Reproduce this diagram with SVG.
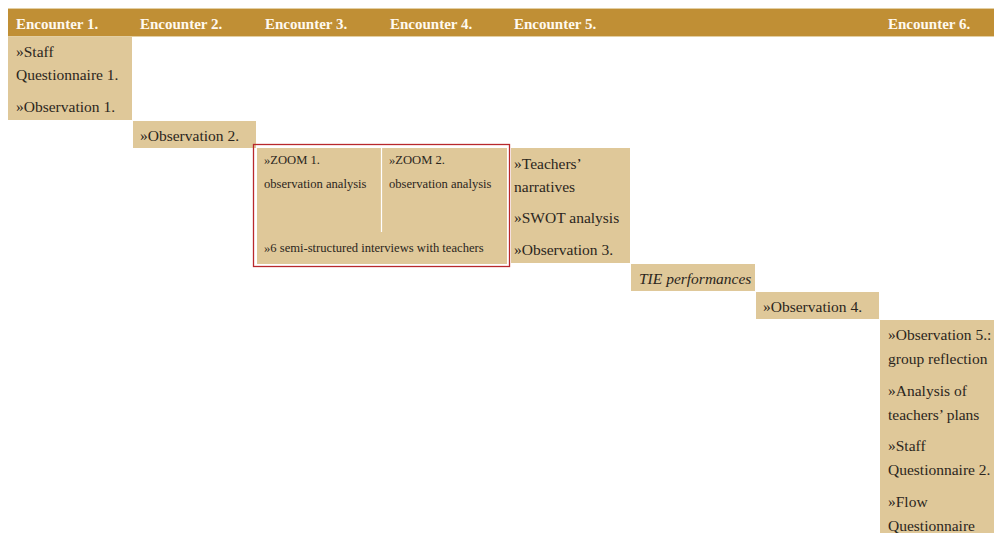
<svg xmlns="http://www.w3.org/2000/svg" width="994" height="533" viewBox="0 0 994 533">
  <style>
    .hdr { fill: #C08F35; }
    .hdrline { fill: #E3CFA3; }
    .cell { fill: #DFC899; }
    .htxt { font-family: "Liberation Serif", serif; font-size: 15px; font-weight: bold; fill: #FFF9EF; }
    .txt { font-family: "Liberation Serif", serif; font-size: 15.5px; fill: #2B2620; }
    .sm { font-family: "Liberation Serif", serif; font-size: 12.6px; fill: #2B2620; }
    .it { font-style: italic; }
  </style>
  <rect width="994" height="533" fill="#FFFFFF"/>

  <!-- header bar with encounter titles -->
  <g id="header">
    <rect class="hdrline" x="8" y="8" width="986" height="29"/>
    <rect class="hdr" x="8" y="9" width="986" height="27"/>
    <text class="htxt" x="16" y="29">Encounter 1.</text>
    <text class="htxt" x="140" y="29">Encounter 2.</text>
    <text class="htxt" x="265" y="29">Encounter 3.</text>
    <text class="htxt" x="390" y="29">Encounter 4.</text>
    <text class="htxt" x="514" y="29">Encounter 5.</text>
    <text class="htxt" x="888" y="29">Encounter 6.</text>
  </g>

  <g id="enc1">
    <rect class="cell" x="8" y="37" width="124" height="83"/>
    <text class="txt" x="16" y="57">»Staff</text>
    <text class="txt" x="16" y="80">Questionnaire 1.</text>
    <text class="txt" x="16" y="112">»Observation 1.</text>
  </g>

  <g id="enc2">
    <rect class="cell" x="133" y="121" width="123" height="27"/>
    <text class="txt" x="140" y="141">»Observation 2.</text>
  </g>

  <g id="enc3-4">
    <rect x="253.5" y="144.5" width="256" height="122" fill="none" stroke="#B8282C" stroke-width="1.3"/>
    <rect class="cell" x="257" y="148" width="250" height="116"/>
    <line x1="381.5" y1="148" x2="381.5" y2="232" stroke="#FFFFFF" stroke-width="1.2"/>
    <text class="sm" x="264" y="164">»ZOOM 1.</text>
    <text class="sm" x="264" y="188">observation analysis</text>
    <text class="sm" x="389" y="164">»ZOOM 2.</text>
    <text class="sm" x="389" y="188">observation analysis</text>
    <text class="sm" x="264" y="252">»6 semi-structured interviews with teachers</text>
  </g>

  <g id="enc5">
    <rect class="cell" x="511" y="148" width="119" height="115"/>
    <text class="txt" x="514" y="169">»Teachers’</text>
    <text class="txt" x="514" y="192">narratives</text>
    <text class="txt" x="514" y="223">»SWOT analysis</text>
    <text class="txt" x="514" y="255">»Observation 3.</text>
  </g>

  <g id="tie">
    <rect class="cell" x="631" y="264" width="124" height="27"/>
    <text class="txt it" x="639" y="284">TIE performances</text>
  </g>

  <g id="obs4">
    <rect class="cell" x="756" y="292" width="123" height="27"/>
    <text class="txt" x="763" y="312">»Observation 4.</text>
  </g>

  <g id="enc6">
    <rect class="cell" x="880" y="320" width="114" height="213"/>
    <text class="txt" x="888" y="340">»Observation 5.:</text>
    <text class="txt" x="888" y="364">group reflection</text>
    <text class="txt" x="888" y="396">»Analysis of</text>
    <text class="txt" x="888" y="420">teachers’ plans</text>
    <text class="txt" x="888" y="451">»Staff</text>
    <text class="txt" x="888" y="475">Questionnaire 2.</text>
    <text class="txt" x="888" y="507">»Flow</text>
    <text class="txt" x="888" y="531">Questionnaire</text>
  </g>

  <g id="connectors"/>
</svg>
